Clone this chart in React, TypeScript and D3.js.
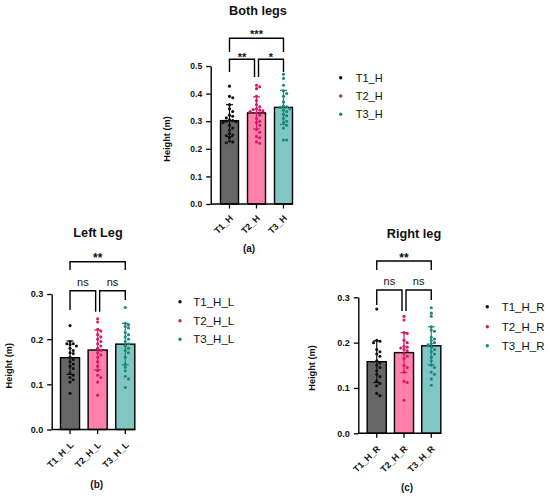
import React, { useEffect, useRef } from "react";
import * as d3 from "d3";

// --- data ---
const groupsBoth = ["T1_H", "T2_H", "T3_H"];
const groupsLeft = ["T1_H_L", "T2_H_L", "T3_H_L"];
const groupsRight = ["T1_H_R", "T2_H_R", "T3_H_R"];

const meansBoth = [0.302, 0.33, 0.35];
const sdBoth = [0.058, 0.058, 0.062];
const meansLeft = [0.159, 0.176, 0.189];
const sdLeft = [0.037, 0.044, 0.046];
const meansRight = [0.158, 0.178, 0.193];
const sdRight = [0.046, 0.044, 0.042];

const t1Both = [0.427, 0.39, 0.385, 0.36, 0.345, 0.335, 0.322, 0.318, 0.312, 0.305, 0.302, 0.3, 0.298, 0.295, 0.285, 0.275, 0.268, 0.255, 0.25, 0.248, 0.24, 0.228, 0.225, 0.222];
const t2Both = [0.43, 0.425, 0.418, 0.39, 0.375, 0.36, 0.352, 0.345, 0.342, 0.34, 0.338, 0.335, 0.33, 0.322, 0.31, 0.3, 0.295, 0.285, 0.27, 0.26, 0.245, 0.24, 0.225, 0.22];
const t3Both = [0.47, 0.455, 0.43, 0.41, 0.4, 0.39, 0.37, 0.355, 0.352, 0.35, 0.345, 0.34, 0.335, 0.325, 0.32, 0.31, 0.3, 0.295, 0.285, 0.275, 0.232, 0.232];

const t1Left = [0.23, 0.195, 0.19, 0.19, 0.188, 0.185, 0.18, 0.175, 0.17, 0.168, 0.16, 0.155, 0.15, 0.145, 0.14, 0.135, 0.125, 0.12, 0.115, 0.11, 0.105, 0.08];
const t2Left = [0.245, 0.238, 0.222, 0.218, 0.21, 0.205, 0.2, 0.195, 0.19, 0.185, 0.18, 0.175, 0.17, 0.165, 0.16, 0.15, 0.14, 0.13, 0.12, 0.115, 0.105, 0.076];
const t3Left = [0.27, 0.235, 0.232, 0.228, 0.225, 0.215, 0.21, 0.205, 0.2, 0.195, 0.19, 0.185, 0.18, 0.175, 0.17, 0.16, 0.145, 0.138, 0.13, 0.118, 0.112, 0.093];

const t1Right = [0.274, 0.205, 0.203, 0.2, 0.185, 0.18, 0.175, 0.17, 0.16, 0.155, 0.15, 0.145, 0.138, 0.13, 0.125, 0.115, 0.11, 0.105, 0.088, 0.083];
const t2Right = [0.258, 0.25, 0.222, 0.22, 0.205, 0.2, 0.192, 0.19, 0.188, 0.185, 0.182, 0.175, 0.17, 0.165, 0.15, 0.145, 0.135, 0.115, 0.112, 0.073];
const t3Right = [0.277, 0.265, 0.258, 0.235, 0.228, 0.225, 0.212, 0.208, 0.205, 0.2, 0.198, 0.195, 0.19, 0.185, 0.18, 0.175, 0.168, 0.16, 0.15, 0.145, 0.135, 0.13, 0.12, 0.106];

const ticksBoth = [0, 0.1, 0.2, 0.3, 0.4, 0.5];
const ticksLeg = [0, 0.1, 0.2, 0.3];

const barFill = ["#666666", "#ff80aa", "#80c6c2"];
const dotFill = ["#111111", "#dc1666", "#17897f"];

const FONT = "'Liberation Sans', Arial, Helvetica, sans-serif";

interface Bracket {
  a: number; b: number; aOff: number; bOff: number;
  y: number; dropA: number; dropB: number;
  label: string; labelY: number; labelSize: number; bold: boolean;
}

interface Panel {
  title: string; titleX: number; titleY: number;
  sub: string; subX: number; subY: number;
  groups: string[]; means: number[]; sds: number[]; points: number[][];
  ticks: number[];
  axisX: number; y0: number; yTop: number; band: [number, number]; pad: number;
  tickFont: number; labelFont: number; xLabelDy: number;
  yLabelX: number; yLabelY: number;
  legendDotX: number; legendTextX: number; legendRows: number[]; legendFont: number;
  brackets: Bracket[];
}

const panels: Panel[] = [
  {
    title: "Both legs", titleX: 258, titleY: 14.5,
    sub: "(a)", subX: 249, subY: 251.5,
    groups: groupsBoth, means: meansBoth, sds: sdBoth, points: [t1Both, t2Both, t3Both],
    ticks: ticksBoth,
    axisX: 210.7, y0: 204, yTop: 66, band: [220.5, 292.5], pad: 0.333,
    tickFont: 8.5, labelFont: 9, xLabelDy: 15,
    yLabelX: 167, yLabelY: 139,
    legendDotX: 340.7, legendTextX: 355.7, legendRows: [77.7, 96, 114.3], legendFont: 11,
    brackets: [
      { a: 0, b: 2, aOff: 0, bOff: 0, y: 38.3, dropA: 52, dropB: 52, label: "***", labelY: 38, labelSize: 11, bold: true },
      { a: 0, b: 1, aOff: 0, bOff: -2, y: 59.3, dropA: 72, dropB: 77, label: "**", labelY: 60.5, labelSize: 11, bold: true },
      { a: 1, b: 2, aOff: 2, bOff: 0, y: 59.3, dropA: 77, dropB: 72, label: "*", labelY: 60.5, labelSize: 11, bold: true },
    ],
  },
  {
    title: "Left Leg", titleX: 98, titleY: 237,
    sub: "(b)", subX: 96.7, subY: 487.5,
    groups: groupsLeft, means: meansLeft, sds: sdLeft, points: [t1Left, t2Left, t3Left],
    ticks: ticksLeg,
    axisX: 51.7, y0: 429.5, yTop: 294, band: [60.5, 134.8], pad: 0.31,
    tickFont: 9, labelFont: 9, xLabelDy: 16,
    yLabelX: 8.5, yLabelY: 365.7,
    legendDotX: 180, legendTextX: 193.3, legendRows: [301.7, 320.7, 339.3], legendFont: 11.5,
    brackets: [
      { a: 0, b: 2, aOff: 0, bOff: 0, y: 261.7, dropA: 270, dropB: 270, label: "**", labelY: 262, labelSize: 12, bold: true },
      { a: 0, b: 1, aOff: 0, bOff: -2, y: 290.7, dropA: 310, dropB: 311.7, label: "ns", labelY: 285.5, labelSize: 11, bold: false },
      { a: 1, b: 2, aOff: 2, bOff: 0, y: 290.7, dropA: 311.7, dropB: 300, label: "ns", labelY: 285.5, labelSize: 11, bold: false },
    ],
  },
  {
    title: "Right leg", titleX: 414, titleY: 237.5,
    sub: "(c)", subX: 407, subY: 490.5,
    groups: groupsRight, means: meansRight, sds: sdRight, points: [t1Right, t2Right, t3Right],
    ticks: ticksLeg,
    axisX: 358.3, y0: 433.3, yTop: 297.3, band: [367.2, 440.8], pad: 0.3,
    tickFont: 9, labelFont: 9, xLabelDy: 16,
    yLabelX: 312, yLabelY: 368,
    legendDotX: 487.3, legendTextX: 501.7, legendRows: [306.7, 326.7, 345.7], legendFont: 11.5,
    brackets: [
      { a: 0, b: 2, aOff: 0, bOff: 0, y: 261, dropA: 270, dropB: 270, label: "**", labelY: 262, labelSize: 12, bold: true },
      { a: 0, b: 1, aOff: 0, bOff: -2, y: 290, dropA: 305, dropB: 311, label: "ns", labelY: 285, labelSize: 11, bold: false },
      { a: 1, b: 2, aOff: 2, bOff: 0, y: 290, dropA: 311, dropB: 300, label: "ns", labelY: 285, labelSize: 11, bold: false },
    ],
  },
];

// simple horizontal dodge so dots don't sit on top of each other
function swarm(values: number[], y: (v: number) => number, step: number, maxOff: number) {
  const placed: { x: number; y: number; v: number }[] = [];
  const sorted = [...values].sort((p, q) => q - p);
  const offsets = [0];
  for (let k = 1; k * step <= maxOff; k++) offsets.push(k * step, -k * step);
  sorted.forEach(v => {
    const py = y(v);
    let px = 0;
    for (const o of offsets) {
      const hit = placed.some(p => Math.hypot(p.x - o, p.y - py) < step * 0.95);
      if (!hit) { px = o; break; }
      px = o;
    }
    placed.push({ x: px, y: py, v });
  });
  return placed;
}

function drawPanel(svg: d3.Selection<SVGSVGElement, unknown, null, undefined>, p: Panel) {
  const g = svg.append("g");
  const yMax = p.ticks[p.ticks.length - 1];
  const y = d3.scaleLinear().domain([0, yMax]).range([p.y0, p.yTop]);
  const x = d3.scaleBand<string>().domain(p.groups).range(p.band).paddingInner(p.pad).paddingOuter(0);
  const bw = x.bandwidth();
  const cx = (i: number) => (x(p.groups[i]) as number) + bw / 2;

  // bars
  g.selectAll(".bar")
    .data(p.means)
    .enter()
    .append("rect")
    .attr("x", (d, i) => x(p.groups[i]) as number)
    .attr("y", d => y(d))
    .attr("width", bw)
    .attr("height", d => p.y0 - y(d))
    .attr("fill", (d, i) => barFill[i])
    .attr("stroke", "#000")
    .attr("stroke-width", 1.4);

  // points
  p.points.forEach((vals, i) => {
    const pts = swarm(vals, y, 3.2, bw / 2 - 2);
    g.append("g")
      .selectAll("circle")
      .data(pts)
      .enter()
      .append("circle")
      .attr("cx", d => cx(i) + d.x)
      .attr("cy", d => d.y)
      .attr("r", 1.55)
      .attr("fill", dotFill[i]);
  });

  // error bars (mean ± SD)
  p.means.forEach((m, i) => {
    const eg = g.append("g").attr("stroke", dotFill[i]).attr("stroke-width", 1.2);
    const hi = y(m + p.sds[i]);
    const lo = y(m - p.sds[i]);
    eg.append("line").attr("x1", cx(i)).attr("x2", cx(i)).attr("y1", hi).attr("y2", lo);
    eg.append("line").attr("x1", cx(i) - 3.5).attr("x2", cx(i) + 3.5).attr("y1", hi).attr("y2", hi);
    eg.append("line").attr("x1", cx(i) - 3.5).attr("x2", cx(i) + 3.5).attr("y1", lo).attr("y2", lo);
  });

  // y axis
  const ya = g.append("g")
    .attr("transform", `translate(${p.axisX},0)`)
    .call(d3.axisLeft(y).tickValues(p.ticks).tickFormat(d3.format(".1f")).tickSize(4.5).tickSizeOuter(0).tickPadding(4));
  ya.select(".domain").attr("stroke-width", 1.4);
  ya.selectAll(".tick line").attr("stroke-width", 1.3);
  ya.selectAll(".tick text")
    .attr("font-family", FONT)
    .attr("font-weight", "bold")
    .attr("font-size", p.tickFont)
    .attr("fill", "#111");

  // x axis
  const xa = g.append("g")
    .attr("transform", `translate(0,${p.y0})`)
    .call(d3.axisBottom(x).tickSize(4.5).tickSizeOuter(0));
  xa.select(".domain").remove();
  xa.append("line")
    .attr("x1", p.axisX).attr("x2", p.band[1] + 0.5)
    .attr("stroke", "#000").attr("stroke-width", 1.4);
  xa.selectAll(".tick line").attr("stroke-width", 1.3);
  xa.selectAll(".tick text")
    .attr("x", 0).attr("y", 0).attr("dy", 0)
    .attr("transform", `translate(4,${p.xLabelDy}) rotate(-45)`)
    .attr("text-anchor", "end")
    .attr("font-family", FONT)
    .attr("font-weight", "bold")
    .attr("font-size", p.labelFont)
    .attr("fill", "#111");

  // y label
  g.append("text")
    .attr("transform", `translate(${p.yLabelX},${p.yLabelY}) rotate(-90)`)
    .attr("text-anchor", "middle")
    .attr("dy", "0.35em")
    .attr("font-family", FONT)
    .attr("font-weight", "bold")
    .attr("font-size", 9.2)
    .attr("fill", "#111")
    .text("Height (m)");

  // title + sub label
  g.append("text")
    .attr("x", p.titleX).attr("y", p.titleY)
    .attr("text-anchor", "middle")
    .attr("font-family", FONT).attr("font-weight", "bold").attr("font-size", 12.7)
    .attr("fill", "#111")
    .text(p.title);
  g.append("text")
    .attr("x", p.subX).attr("y", p.subY)
    .attr("text-anchor", "middle")
    .attr("font-family", FONT).attr("font-weight", "bold").attr("font-size", 10)
    .attr("fill", "#111")
    .text(p.sub);

  // significance brackets
  p.brackets.forEach(b => {
    const xa1 = cx(b.a) + b.aOff;
    const xb1 = cx(b.b) + b.bOff;
    g.append("path")
      .attr("d", `M${xa1},${b.dropA}V${b.y}H${xb1}V${b.dropB}`)
      .attr("fill", "none")
      .attr("stroke", "#000")
      .attr("stroke-width", 1.4);
    g.append("text")
      .attr("x", (xa1 + xb1) / 2).attr("y", b.labelY)
      .attr("text-anchor", "middle")
      .attr("font-family", FONT)
      .attr("font-weight", b.bold ? "bold" : "normal")
      .attr("font-size", b.labelSize)
      .attr("fill", "#111")
      .text(b.label);
  });

  // legend
  const lg = g.append("g");
  p.groups.forEach((name, i) => {
    lg.append("circle")
      .attr("cx", p.legendDotX).attr("cy", p.legendRows[i])
      .attr("r", 1.7).attr("fill", dotFill[i]);
    lg.append("text")
      .attr("x", p.legendTextX).attr("y", p.legendRows[i])
      .attr("dy", "0.35em")
      .attr("font-family", FONT)
      .attr("font-size", p.legendFont)
      .attr("fill", "#111")
      .text(name);
  });
}

const App: React.FC = () => {
  const ref = useRef<SVGSVGElement>(null);

  useEffect(() => {
    const svg = d3.select(ref.current as SVGSVGElement);
    svg.selectAll("*").remove();
    panels.forEach(p => drawPanel(svg, p));
  }, []);

  return (
    <svg
      ref={ref}
      width={550}
      height={499}
      style={{ position: "absolute", left: 0, top: 0, background: "#fff" }}
    />
  );
};

export default App;
